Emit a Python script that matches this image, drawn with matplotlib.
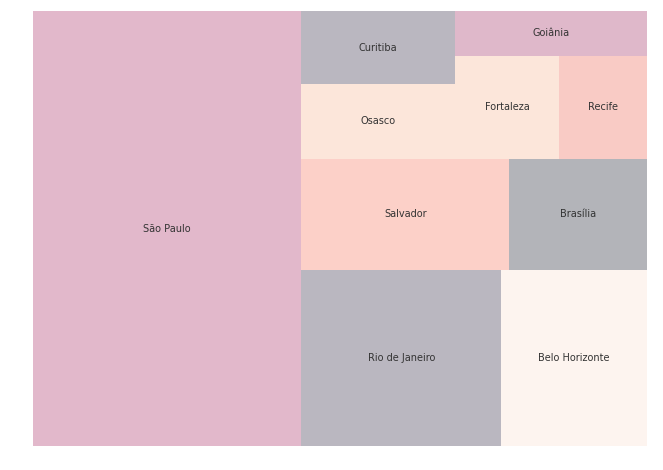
import matplotlib
matplotlib.use("Agg")
import matplotlib.pyplot as plt

# data (relative sizes)
cities = ["São Paulo", "Rio de Janeiro", "Belo Horizonte", "Salvador", "Brasília",
          "Osasco", "Curitiba", "Fortaleza", "Recife", "Goiânia"]
sizes = [436, 132, 96, 86, 57, 43, 42, 40, 34, 32]
colors = ["#e2b8cb", "#bab7c0", "#fdf4ef", "#fcd0c8", "#b3b4b9",
          "#fce6da", "#bab7c0", "#fce6da", "#f9cbc5", "#dfb8ca"]


# squarify layout
def layoutrow(s, x, y, dx, dy):
    width = sum(s) / dy
    rects = []
    for v in s:
        rects.append((x, y, width, v / width))
        y += v / width
    return rects


def layoutcol(s, x, y, dx, dy):
    height = sum(s) / dx
    rects = []
    for v in s:
        rects.append((x, y, v / height, height))
        x += v / height
    return rects


def layout(s, x, y, dx, dy):
    return layoutrow(s, x, y, dx, dy) if dx >= dy else layoutcol(s, x, y, dx, dy)


def leftover(s, x, y, dx, dy):
    if dx >= dy:
        width = sum(s) / dy
        return x + width, y, dx - width, dy
    height = sum(s) / dx
    return x, y + height, dx, dy - height


def worst(s, x, y, dx, dy):
    return max(max(w / h, h / w) for (_, _, w, h) in layout(s, x, y, dx, dy))


def squarify(s, x, y, dx, dy):
    if len(s) == 0:
        return []
    if len(s) == 1:
        return layout(s, x, y, dx, dy)
    i = 1
    while i < len(s) and worst(s[:i], x, y, dx, dy) >= worst(s[:i + 1], x, y, dx, dy):
        i += 1
    cur, rest = s[:i], s[i:]
    return layout(cur, x, y, dx, dy) + squarify(rest, *leftover(cur, x, y, dx, dy))


total = sum(sizes)
norm = [v * 100 * 100 / total for v in sizes]
rects = squarify(norm, 0, 0, 100, 100)

fig = plt.figure(figsize=(6.63, 4.70), dpi=100)
ax = fig.add_axes([33 / 663, 24 / 470, 614 / 663, 435 / 470])
for (x, y, w, h), c, name in zip(rects, colors, cities):
    ax.bar(x, h, width=w, bottom=y, color=c, align="edge", linewidth=0)
    ax.text(x + w / 2, y + h / 2, name, ha="center", va="center", fontsize=7, color="#333333")
ax.set_xlim(0, 100)
ax.set_ylim(0, 100)
ax.axis("off")
fig.savefig("out.png", dpi=100)
